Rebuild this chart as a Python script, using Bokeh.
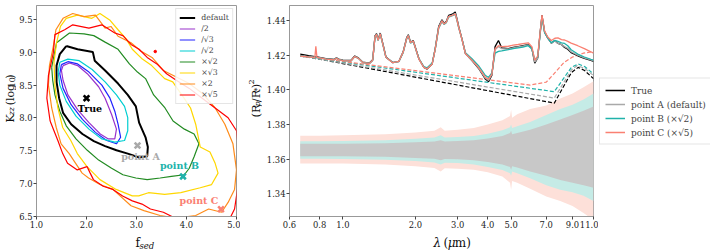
import numpy as np
from bokeh.plotting import figure
from bokeh.layouts import row, column
from bokeh.models import (Legend, LegendItem, Label, FixedTicker,
                          PrintfTickFormatter, Range1d)
from bokeh.embed import file_html
from bokeh.resources import INLINE

SERIF = "DejaVu Serif"

# ---------------- left panel data: contour outlines (f_sed, log10 Kzz) ----------------
default_c = [(1.595, 9.093), (1.822, 9.044), (2.126, 9.004), (2.165, 8.870), (2.372, 8.722),
             (2.631, 8.523), (2.825, 8.350), (2.987, 8.176), (3.052, 7.928), (3.181, 7.705),
             (3.227, 7.557), (3.214, 7.418), (3.052, 7.398), (2.825, 7.457), (2.599, 7.507),
             (2.372, 7.571), (2.146, 7.646), (1.919, 7.755), (1.693, 7.904), (1.531, 8.077),
             (1.453, 8.300), (1.401, 8.548), (1.401, 8.796), (1.466, 8.970)]
half_c = [(1.531, 8.796), (1.660, 8.836), (1.822, 8.796), (2.016, 8.672), (2.243, 8.474),
          (2.372, 8.300), (2.502, 8.052), (2.599, 7.829), (2.566, 7.680), (2.437, 7.680),
          (2.275, 7.755), (2.049, 7.928), (1.822, 8.127), (1.628, 8.350), (1.531, 8.573),
          (1.498, 8.722)]
isq3_c = [(1.498, 8.811), (1.628, 8.855), (1.822, 8.821), (2.049, 8.697), (2.307, 8.499),
          (2.469, 8.300), (2.566, 8.102), (2.631, 7.904), (2.683, 7.705), (2.599, 7.606),
          (2.405, 7.656), (2.178, 7.780), (1.919, 7.978), (1.693, 8.201), (1.531, 8.449),
          (1.466, 8.672)]
isq2_c = [(1.466, 8.846), (1.628, 8.895), (1.854, 8.870), (2.113, 8.736), (2.372, 8.548),
          (2.599, 8.350), (2.761, 8.176), (2.825, 8.003), (2.825, 7.804), (2.761, 7.656),
          (2.566, 7.631), (2.307, 7.680), (2.049, 7.829), (1.790, 8.027), (1.595, 8.251),
          (1.466, 8.499), (1.434, 8.697)]
sq2_c = [(1.304, 8.771), (1.401, 9.143), (1.660, 9.292), (1.951, 9.277), (2.146, 9.252),
         (2.372, 9.153), (2.631, 9.044), (2.858, 8.821), (3.019, 8.697), (3.181, 8.598),
         (3.343, 8.350), (3.570, 8.151), (3.731, 7.953), (3.958, 7.829), (4.152, 7.755),
         (4.249, 7.606), (4.152, 7.408), (4.055, 7.234), (3.958, 7.135), (3.699, 7.110),
         (3.473, 7.086), (3.214, 7.061), (2.987, 7.086), (2.728, 7.135), (2.502, 7.234),
         (2.243, 7.358), (2.016, 7.507), (1.790, 7.680), (1.595, 7.879), (1.466, 8.102),
         (1.369, 8.350), (1.324, 8.573)]
sq3_c = [(1.401, 9.143), (1.479, 9.391), (1.595, 9.515), (1.816, 9.564), (2.107, 9.515),
         (2.269, 9.589), (2.463, 9.490), (2.631, 9.341), (2.793, 9.203), (2.916, 9.044),
         (3.117, 8.895), (3.304, 8.796), (3.563, 8.598), (3.725, 8.548), (3.951, 8.300),
         (4.081, 8.151), (4.184, 7.904), (4.275, 7.557), (4.469, 7.482), (4.573, 7.309),
         (4.631, 7.160), (4.502, 6.986), (4.275, 6.937), (3.887, 6.862), (3.563, 6.838),
         (3.240, 6.862), (3.045, 6.813), (2.916, 6.813), (2.592, 6.912), (2.269, 7.061),
         (2.010, 7.259), (1.816, 7.457), (1.686, 7.656), (1.524, 7.854), (1.427, 8.151),
         (1.369, 8.499), (1.350, 8.846)]
two_c = [(1.304, 8.151), (1.239, 8.499), (1.259, 8.796), (1.337, 9.093), (1.388, 9.341),
         (1.531, 9.515), (1.725, 9.589), (1.951, 9.540), (2.178, 9.564), (2.372, 9.366),
         (2.489, 9.391), (2.631, 9.242), (2.890, 9.143), (3.084, 9.019), (3.311, 8.920),
         (3.537, 8.722), (3.796, 8.622), (4.055, 8.523), (4.314, 8.375), (4.573, 8.151),
         (4.767, 7.904), (4.929, 7.606), (5.000, 7.209), (4.961, 6.912), (4.832, 6.714),
         (4.702, 6.565), (4.443, 6.614), (4.184, 6.515), (3.796, 6.476), (3.472, 6.515),
         (3.149, 6.590), (2.890, 6.664), (2.528, 6.912), (2.269, 6.986), (2.042, 7.086),
         (1.913, 7.160), (1.783, 7.309), (1.654, 7.457), (1.492, 7.606), (1.395, 7.854)]
sq5_c = [(1.272, 7.953), (1.207, 8.300), (1.239, 8.647), (1.337, 8.994), (1.369, 9.267),
         (1.563, 9.341), (1.725, 9.416), (2.049, 9.366), (2.307, 9.416), (2.566, 9.292),
         (2.728, 9.252), (2.890, 9.118), (3.052, 9.044), (3.214, 8.920), (3.408, 8.821),
         (3.602, 8.672), (3.796, 8.573), (4.055, 8.449), (4.314, 8.300), (4.573, 8.151),
         (4.832, 8.003), (5.000, 7.804), (5.058, 7.408), (5.039, 7.011), (4.961, 6.614),
         (4.832, 6.416), (4.314, 6.367), (3.796, 6.466), (3.537, 6.565), (3.278, 6.614),
         (3.110, 6.689), (2.916, 6.738), (2.722, 6.813), (2.528, 6.912), (2.333, 6.961),
         (2.139, 7.061), (2.074, 7.160), (2.010, 7.259), (1.816, 7.209), (1.621, 7.309),
         (1.524, 7.457), (1.427, 7.656)]
island_x = [3.375]
island_y = [9.01]

contour_labels = ["default", "/2", "/√3", "/√2", "×√2", "×√3", "×2", "×√5"]
contour_colors = ["black", "#9932cc", "#2222ff", "#00ced1", "#228b22", "gold", "#ff8c1a", "red"]
contour_widths = [2.0, 1.2, 1.2, 1.2, 1.2, 1.2, 1.2, 1.2]
contours = [default_c, half_c, isq3_c, isq2_c, sq2_c, sq3_c, two_c, sq5_c]

pts_x = [2.0, 3.02, 3.93, 4.69]
pts_y = [8.30, 7.58, 7.11, 6.61]
pts_names = ["True", "point A", "point B", "point C"]
pts_colors = ["black", "#a9a9a9", "#20b2aa", "#fa8072"]
pts_label_x = [2.07, 3.08, 3.86, 4.25]
pts_label_y = [8.15, 7.42, 7.28, 6.75]

# ---------------- right panel data: transmission spectra ----------------
wl = [0.665, 0.72, 0.765, 0.772, 0.78, 0.85, 0.92, 0.94, 0.96, 1.0,
      1.08, 1.12, 1.16, 1.21, 1.29, 1.33, 1.36, 1.38, 1.40, 1.43,
      1.47, 1.51, 1.61, 1.71, 1.78, 1.84, 1.87, 1.91, 1.96, 2.07,
      2.17, 2.24, 2.35, 2.42, 2.50, 2.58, 2.63, 2.69, 2.75, 2.85,
      2.93, 2.98, 3.03, 3.13, 3.23, 3.44, 3.66, 3.90, 4.03, 4.16,
      4.29, 4.43, 4.57, 4.87, 5.10, 5.35, 5.60, 5.89, 6.10, 6.27,
      6.45, 6.60, 6.72, 6.89, 7.10, 7.35, 7.60, 7.83, 8.10, 8.34,
      8.60, 8.88, 9.46, 10.08, 10.73, 11.00]
depth_true = [1.4207, 1.4198, 1.4192, 1.4191, 1.4190, 1.4181, 1.4176, 1.4186, 1.4178, 1.4172,
              1.4170, 1.4196, 1.4185, 1.4160, 1.4155, 1.4175, 1.4312, 1.4325, 1.4290, 1.4328,
              1.4260, 1.4190, 1.4158, 1.4165, 1.4220, 1.4300, 1.4318, 1.4275, 1.4285, 1.4180,
              1.4130, 1.4120, 1.4150, 1.4240, 1.4365, 1.4405, 1.4385, 1.4395, 1.4430, 1.4437,
              1.4450, 1.4410, 1.4365, 1.4290, 1.4210, 1.4170, 1.4125, 1.4065, 1.4048, 1.4085,
              1.4250, 1.4285, 1.4243, 1.4238, 1.4245, 1.4250, 1.4255, 1.4262, 1.4240, 1.4155,
              1.4185, 1.4330, 1.4430, 1.4335, 1.4300, 1.4270, 1.4285, 1.4268, 1.4262, 1.4245,
              1.4235, 1.4215, 1.4197, 1.4182, 1.4170, 1.4165]
depth_a = [1.4197, 1.4192, 1.4188, 1.4188, 1.4187, 1.4179, 1.4174, 1.4184, 1.4176, 1.4170,
           1.4168, 1.4194, 1.4183, 1.4158, 1.4153, 1.4172, 1.4308, 1.4322, 1.4287, 1.4325,
           1.4257, 1.4188, 1.4157, 1.4164, 1.4218, 1.4297, 1.4315, 1.4273, 1.4282, 1.4178,
           1.4130, 1.4121, 1.4150, 1.4238, 1.4360, 1.4400, 1.4382, 1.4392, 1.4425, 1.4432,
           1.4442, 1.4405, 1.4360, 1.4287, 1.4208, 1.4170, 1.4127, 1.4070, 1.4055, 1.4090,
           1.4232, 1.4250, 1.4238, 1.4236, 1.4243, 1.4248, 1.4253, 1.4260, 1.4238, 1.4160,
           1.4183, 1.4325, 1.4425, 1.4332, 1.4298, 1.4270, 1.4283, 1.4268, 1.4262, 1.4250,
           1.4240, 1.4220, 1.4200, 1.4185, 1.4173, 1.4168]
depth_b = [1.4195, 1.4190, 1.4187, 1.4187, 1.4186, 1.4178, 1.4173, 1.4183, 1.4175, 1.4169,
           1.4167, 1.4192, 1.4182, 1.4158, 1.4153, 1.4170, 1.4305, 1.4320, 1.4285, 1.4322,
           1.4255, 1.4188, 1.4158, 1.4165, 1.4215, 1.4293, 1.4312, 1.4270, 1.4280, 1.4180,
           1.4135, 1.4128, 1.4155, 1.4235, 1.4355, 1.4395, 1.4378, 1.4388, 1.4420, 1.4428,
           1.4436, 1.4400, 1.4358, 1.4290, 1.4215, 1.4180, 1.4140, 1.4085, 1.4072, 1.4098,
           1.4212, 1.4222, 1.4225, 1.4232, 1.4238, 1.4242, 1.4247, 1.4255, 1.4236, 1.4175,
           1.4190, 1.4320, 1.4420, 1.4330, 1.4300, 1.4272, 1.4286, 1.4280, 1.4272, 1.4268,
           1.4255, 1.4232, 1.4207, 1.4190, 1.4177, 1.4172]
depth_c = [1.4195, 1.4190, 1.4188, 1.4252, 1.4188, 1.4178, 1.4173, 1.4183, 1.4175, 1.4169,
           1.4167, 1.4193, 1.4182, 1.4158, 1.4153, 1.4171, 1.4306, 1.4320, 1.4286, 1.4323,
           1.4256, 1.4188, 1.4157, 1.4165, 1.4217, 1.4295, 1.4313, 1.4272, 1.4282, 1.4178,
           1.4130, 1.4122, 1.4150, 1.4236, 1.4358, 1.4398, 1.4380, 1.4390, 1.4423, 1.4430,
           1.4438, 1.4402, 1.4360, 1.4288, 1.4210, 1.4172, 1.4130, 1.4075, 1.4062, 1.4092,
           1.4238, 1.4255, 1.4250, 1.4252, 1.4258, 1.4262, 1.4267, 1.4272, 1.4250, 1.4172,
           1.4195, 1.4332, 1.4432, 1.4340, 1.4305, 1.4285, 1.4298, 1.4300, 1.4290, 1.4288,
           1.4280, 1.4270, 1.4255, 1.4238, 1.4220, 1.4212]

# cloud-only (dashed) curves
cont_true_wl = [0.665, 7.56, 8.9, 9.5, 10.1, 11.0]
cont_true = [1.4198, 1.3924, 1.4100, 1.4130, 1.4112, 1.4065]
cont_a_wl = [0.665, 7.56, 8.9, 9.4, 10.1, 11.0]
cont_a = [1.4196, 1.3953, 1.4115, 1.4140, 1.4125, 1.4083]
cont_b_wl = [0.665, 7.56, 8.9, 9.5, 10.1, 11.0]
cont_b = [1.4195, 1.3990, 1.4130, 1.4150, 1.4135, 1.4093]
cont_c_wl = [0.665, 6.0, 7.0, 7.5, 8.3, 9.0, 10.0, 11.0]
cont_c = [1.4195, 1.4028, 1.4045, 1.4090, 1.4159, 1.4190, 1.4212, 1.4222]

# uncertainty envelopes
band_wl = [0.665, 0.8, 1.0, 1.5, 2.0, 2.4, 2.55, 2.65, 3.0, 3.5, 4.0,
           4.6, 4.95, 5.0, 5.05, 5.3, 6.0, 7.0, 8.0, 9.0, 10.0, 11.0]
band_a_hi = [1.3689, 1.3689, 1.3689, 1.3692, 1.3698, 1.3703, 1.3710, 1.3703, 1.3706, 1.3710, 1.3720,
             1.3735, 1.3752, 1.3765, 1.3745, 1.3752, 1.3770, 1.3800, 1.3830, 1.3855, 1.3880, 1.3905]
band_a_lo = [1.3618, 1.3618, 1.3618, 1.3614, 1.3608, 1.3603, 1.3595, 1.3602, 1.3600, 1.3595, 1.3585,
             1.3570, 1.3555, 1.3540, 1.3560, 1.3552, 1.3530, 1.3505, 1.3480, 1.3465, 1.3450, 1.3436]
band_b_hi = [1.3704, 1.3704, 1.3705, 1.3710, 1.3718, 1.3725, 1.3738, 1.3725, 1.3728, 1.3735, 1.3748,
             1.3768, 1.3785, 1.3800, 1.3780, 1.3790, 1.3815, 1.3855, 1.3890, 1.3915, 1.3945, 1.3980]
band_b_lo = [1.3603, 1.3603, 1.3602, 1.3598, 1.3590, 1.3582, 1.3570, 1.3580, 1.3578, 1.3570, 1.3556,
             1.3538, 1.3520, 1.3505, 1.3530, 1.3520, 1.3490, 1.3450, 1.3425, 1.3410, 1.3390, 1.3360]
band_c_hi = [1.3736, 1.3736, 1.3738, 1.3745, 1.3755, 1.3765, 1.3785, 1.3765, 1.3770, 1.3780, 1.3800,
             1.3825, 1.3850, 1.3885, 1.3840, 1.3860, 1.3890, 1.3910, 1.3950, 1.3980, 1.4015, 1.4050]
band_c_lo = [1.3576, 1.3576, 1.3575, 1.3570, 1.3560, 1.3550, 1.3530, 1.3548, 1.3545, 1.3540, 1.3525,
             1.3500, 1.3465, 1.3425, 1.3475, 1.3465, 1.3430, 1.3385, 1.3360, 1.3330, 1.3290, 1.3250]

spec_labels = ["True", "point A (default)", "point B (×√2)", "point C (×√5)"]
spec_colors = ["black", "#a9a9a9", "#20b2aa", "#fa8072"]

x_ticks_right = [0.6, 0.8, 1.0, 2.0, 3.0, 4.0, 5.0, 7.0, 9.0, 11.0]
y_ticks_right = [1.34, 1.36, 1.38, 1.40, 1.42, 1.44]
x_ticks_left = [1.0, 2.0, 3.0, 4.0, 5.0]
y_ticks_left = [6.5, 7.0, 7.5, 8.0, 8.5, 9.0, 9.5]

# ---------------- helpers ----------------
CW = {'K': 0.77, 'z': 0.53, ' ': 0.32, '(': 0.39, ')': 0.39, 'l': 0.32, 'o': 0.60,
      'g': 0.64, '1': 0.64, '0': 0.64, 'f': 0.37, 's': 0.51, 'e': 0.59, 'd': 0.64,
      'R': 0.74, 'p': 0.64, '/': 0.34, '*': 0.50, '2': 0.64, 'λ': 0.60, 'μ': 0.65, 'm': 0.95}


def tw(s, size):
    return sum(CW.get(c, 0.6) for c in s) * size


def label_fig(w, h):
    f = figure(width=w, height=h, output_backend="svg", toolbar_location=None, title=None,
               x_range=Range1d(0, w), y_range=Range1d(0, h),
               x_axis_location=None, y_axis_location=None,
               min_border_left=0, min_border_right=0, min_border_top=0, min_border_bottom=0)
    f.outline_line_color = None
    f.xgrid.visible = False
    f.ygrid.visible = False
    return f


def rich_label(p, pieces, cx, cy, vertical=False):
    """pieces: (text, size, shift, style); (cx, cy) = baseline point at the label centre."""
    total = sum(tw(t, s) for t, s, sh, st in pieces)
    pos = -total / 2.0
    for t, s, sh, st in pieces:
        if t.strip():
            common = dict(text=t, text_font=SERIF, text_font_size=f"{s}px",
                          text_font_style=st, text_align="left",
                          text_baseline="alphabetic", text_color="#111111")
            if vertical:
                lab = Label(x=cx - sh, y=cy + pos, angle=np.pi / 2, **common)
            else:
                lab = Label(x=cx + pos, y=cy + sh, **common)
            p.add_layout(lab)
        pos += tw(t, s)


def style_axes(p):
    for ax in (p.xaxis[0], p.yaxis[0]):
        ax.axis_line_color = "#999999"
        ax.major_tick_line_color = "#444444"
        ax.major_tick_out = 3
        ax.major_tick_in = 0
        ax.minor_tick_out = 0
        ax.minor_tick_in = 0
        ax.major_label_standoff = 1
        ax.major_label_text_font = SERIF
        ax.major_label_text_font_size = "8.4px"
        ax.major_label_text_color = "#222222"
    p.outline_line_color = "#999999"
    p.xgrid.visible = False
    p.ygrid.visible = False


H = 250
HP = 230          # height of the two plotting canvases
HL = H - HP       # strip under them for the x labels
W1, W2, WY1, WY2, W3 = 224, 336, 16, 22, 112
MB_L1, MB_R1, MB_L2, MB_R2 = 16, 4, 27, 5
MB_T, MB_B = 5, 13

# ---------------- left figure ----------------
p1 = figure(width=W1, height=HP, output_backend="svg", toolbar_location=None,
            title=None, x_range=Range1d(1.0, 5.0), y_range=Range1d(6.5, 9.71),
            min_border_left=MB_L1, min_border_right=MB_R1, min_border_top=MB_T,
            min_border_bottom=MB_B)
style_axes(p1)
p1.xaxis[0].ticker = FixedTicker(ticks=x_ticks_left)
p1.yaxis[0].ticker = FixedTicker(ticks=y_ticks_left)
p1.xaxis[0].formatter = PrintfTickFormatter(format="%.1f")
p1.yaxis[0].formatter = PrintfTickFormatter(format="%.1f")

items1 = []
for name, col, lw, pts in zip(contour_labels, contour_colors, contour_widths, contours):
    xs = [q[0] for q in pts] + [pts[0][0]]
    ys = [q[1] for q in pts] + [pts[0][1]]
    r = p1.line(xs, ys, line_color=col, line_width=lw)
    items1.append(LegendItem(label=name, renderers=[r]))
p1.scatter(island_x, island_y, marker="circle", size=2.5, color="red")

for x, y, c, nm, lx, ly in zip(pts_x, pts_y, pts_colors, pts_names, pts_label_x, pts_label_y):
    p1.scatter([x], [y], marker="x", size=8, line_width=2.6, line_color=c)
    p1.add_layout(Label(x=lx, y=ly, text=nm, text_font=SERIF, text_font_size="9.5px",
                        text_font_style="bold", text_color=c, text_align="center",
                        text_baseline="middle"))

leg1 = Legend(items=items1, location="top_right", margin=3, padding=3, spacing=0,
              label_text_font=SERIF, label_text_font_size="7.8px", label_height=11,
              glyph_height=11, glyph_width=16, label_standoff=6,
              border_line_color="#cccccc", background_fill_alpha=0.85)
p1.add_layout(leg1)

# ---------------- right figure ----------------
p2 = figure(width=W2, height=HP, output_backend="svg", toolbar_location=None,
            title=None, x_axis_type="log", x_range=Range1d(0.6, 11.0),
            y_range=Range1d(1.327, 1.4487),
            min_border_left=MB_L2, min_border_right=MB_R2, min_border_top=MB_T,
            min_border_bottom=MB_B)
style_axes(p2)
p2.xaxis[0].ticker = FixedTicker(ticks=x_ticks_right, minor_ticks=[])
p2.yaxis[0].ticker = FixedTicker(ticks=y_ticks_right)
p2.xaxis[0].formatter = PrintfTickFormatter(format="%.1f")
p2.yaxis[0].formatter = PrintfTickFormatter(format="%.2f")

p2.varea(band_wl, band_c_lo, band_c_hi, fill_color="#fde0d9")
p2.varea(band_wl, band_b_lo, band_b_hi, fill_color="#c5ebe6")
p2.varea(band_wl, band_a_lo, band_a_hi, fill_color="#c8c8c8")

for cwl, cv, col in zip([cont_true_wl, cont_a_wl, cont_b_wl, cont_c_wl],
                        [cont_true, cont_a, cont_b, cont_c], spec_colors):
    p2.line(cwl, cv, line_color=col, line_width=1.2, line_dash="4 2")

spectra = [depth_true, depth_a, depth_b, depth_c]
for col, d in zip(spec_colors, spectra):
    p2.line(wl, d, line_color=col, line_width=1.3)

# ---------------- axis-label strips ----------------
frame_mid_y = H - (MB_T + (HP - MB_B - 2)) / 2.0

ylab1 = label_fig(WY1, H)
rich_label(ylab1, [("K", 11, 0, "normal"), ("zz", 7.8, -1.0, "italic"), (" ", 11, 0, "normal"),
                   ("(log", 11, 0, "normal"), ("10", 7.8, -1.0, "normal"), (")", 11, 0, "normal")],
           cx=10.0, cy=frame_mid_y, vertical=True)

ylab2 = label_fig(WY2, H)
rich_label(ylab2, [("(R", 11.5, 0, "normal"), ("p", 8, -1.6, "italic"), ("/R", 11.5, 0, "normal"),
                   ("*", 8, -1.6, "normal"), (")", 11.5, 0, "normal"), ("2", 8, 4.2, "normal")],
           cx=15.0, cy=frame_mid_y, vertical=True)

xlab1 = label_fig(W1, HL)
rich_label(xlab1, [("f", 12, 0, "normal"), ("sed", 8.5, -2.5, "italic")],
           cx=(MB_L1 + 5 + W1 - MB_R1) / 2.0, cy=7.5)

xlab2 = label_fig(W2, HL)
rich_label(xlab2, [("λ", 12, 0, "italic"), (" ", 12, 0, "normal"), ("(", 12, 0, "normal"),
                   ("μ", 12, 0, "italic"), ("m)", 12, 0, "normal")],
           cx=(MB_L2 + W2 - MB_R2) / 2.0, cy=7.5)

# ---------------- legend panel (axis-less figure) ----------------
p3 = figure(width=W3, height=H, output_backend="svg", toolbar_location=None,
            title=None, x_range=Range1d(100, 101), y_range=Range1d(0, 1),
            x_axis_location=None, y_axis_location=None,
            min_border_left=0, min_border_right=0, min_border_top=MB_T,
            min_border_bottom=MB_B + HL)
p3.outline_line_color = None
p3.xgrid.visible = False
p3.ygrid.visible = False
items2 = []
for name, col, d in zip(spec_labels, spec_colors, spectra):
    r = p3.line(wl, d, line_color=col, line_width=1.5)
    items2.append(LegendItem(label=name, renderers=[r]))
leg2 = Legend(items=items2, location="center_left", margin=1, padding=5, spacing=1,
              label_text_font=SERIF, label_text_font_size="9px", label_height=13,
              glyph_height=13, glyph_width=20, label_standoff=6,
              border_line_color="#cccccc")
p3.add_layout(leg2)

layout = row(ylab1, column(p1, xlab1), ylab2, column(p2, xlab2), p3)
open("out.html", "w").write(file_html(layout, INLINE))
